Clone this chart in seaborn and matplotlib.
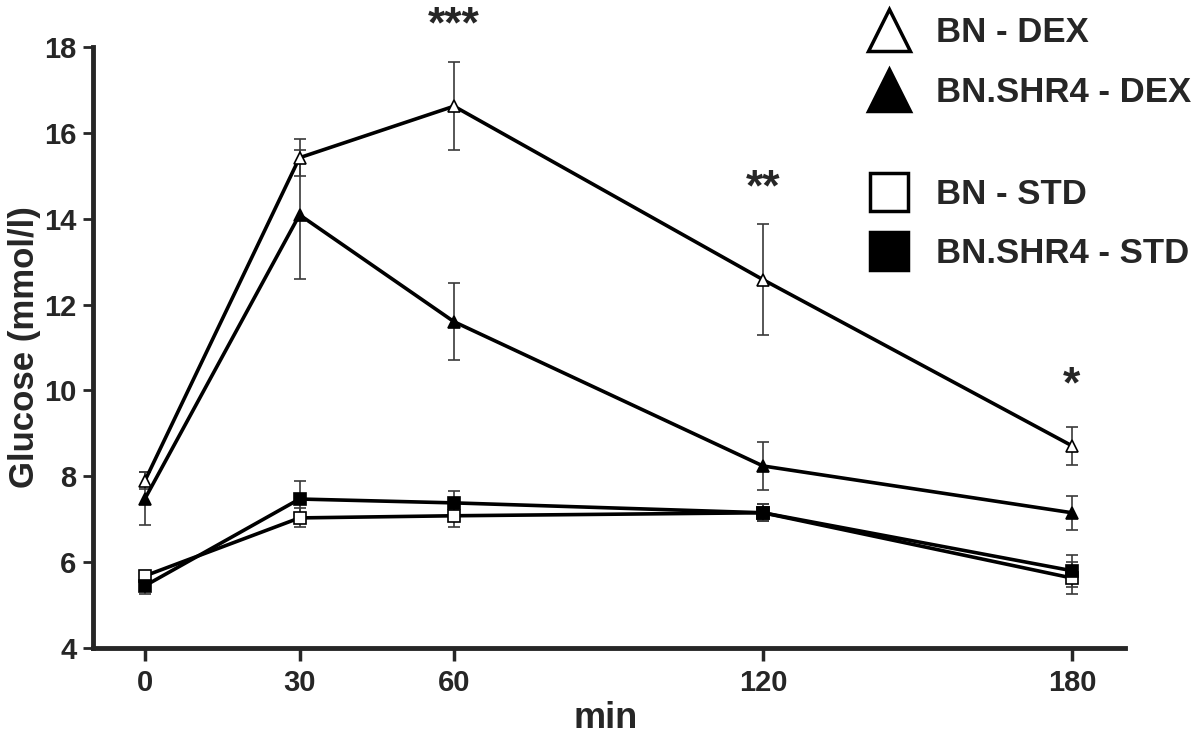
import numpy as np
import pandas as pd
import matplotlib
matplotlib.use('Agg')
import matplotlib.pyplot as plt
from matplotlib.lines import Line2D
import seaborn as sns

time_min = [0, 30, 60, 120, 180]

bn_dex = [7.9, 15.42, 16.62, 12.58, 8.71]
bn_dex_err = [0.2, 0.43, 1.03, 1.3, 0.44]
shr_dex = [7.48, 14.09, 11.6, 8.24, 7.15]
shr_dex_err = [0.62, 1.5, 0.9, 0.56, 0.4]
bn_std = [5.68, 7.03, 7.08, 7.15, 5.63]
bn_std_err = [0.1, 0.22, 0.26, 0.2, 0.37]
shr_std = [5.45, 7.47, 7.38, 7.15, 5.8]
shr_std_err = [0.2, 0.42, 0.28, 0.2, 0.37]

series_names = ['BN - DEX', 'BN.SHR4 - DEX', 'BN - STD', 'BN.SHR4 - STD']
stars = ['***', '**', '*']
star_times = [60, 120, 180]
star_y = [18.5, 14.7, 10.1]

sns.set_style('ticks')
plt.rcParams['font.family'] = ['Liberation Sans', 'DejaVu Sans']
plt.rcParams['font.weight'] = 'bold'

fig = plt.figure(figsize=(12, 7.42), dpi=100)
ax = fig.add_axes([0.0775, 0.1267, 0.86, 0.81])

styles = [('^', 'white'), ('^', 'black'), ('s', 'white'), ('s', 'black')]
values = [bn_dex, shr_dex, bn_std, shr_std]
errors = [bn_dex_err, shr_dex_err, bn_std_err, shr_std_err]

for name, (mk, fc), v, e in zip(series_names, styles, values, errors):
    df = pd.DataFrame({'min': time_min, 'glucose': v})
    ax.errorbar(time_min, v, yerr=e, fmt='none', ecolor='#3a3a3a',
                elinewidth=1.2, capsize=4, capthick=1.2, zorder=2)
    sns.lineplot(data=df, x='min', y='glucose', ax=ax, color='black',
                 linewidth=2.6, marker=mk, markersize=9,
                 markerfacecolor=fc, markeredgecolor='black',
                 markeredgewidth=1.2, zorder=3)

for s, t, yy in zip(stars, star_times, star_y):
    ax.text(t, yy, s, ha='center', va='center', fontsize=32,
            fontweight='bold', clip_on=False)

ax.set_xlim(-10.1, 190.3)
ax.set_ylim(4, 18)
ax.set_xticks(time_min)
ax.set_yticks(np.arange(4, 19, 2))
ax.tick_params(axis='x', length=9, width=2.5, labelsize=21, pad=6)
ax.tick_params(axis='y', length=7, width=2, labelsize=21, pad=5)
for lab in ax.get_xticklabels() + ax.get_yticklabels():
    lab.set_fontweight('bold')
sns.despine(ax=ax)
ax.spines['left'].set_linewidth(3.5)
ax.spines['bottom'].set_linewidth(3.5)

ax.set_xlabel('min', fontsize=26, fontweight='bold')
ax.set_ylabel('Glucose (mmol/l)', fontsize=25, fontweight='bold')
ax.xaxis.set_label_coords(0.497, -0.088)
ax.yaxis.set_label_coords(-0.05, 0.5)

h1 = [Line2D([], [], ls='none', marker='^', ms=30, mfc=fc, mec='black', mew=2.5)
      for fc in ['white', 'black']]
h2 = [Line2D([], [], ls='none', marker='s', ms=27, mfc=fc, mec='black', mew=2.5)
      for fc in ['white', 'black']]
leg_kw = dict(loc='upper left', frameon=False, borderpad=0, borderaxespad=0,
              handlelength=1.6, handletextpad=0.55, labelspacing=0.76,
              prop={'size': 25, 'weight': 'bold'})
fig.legend(h1, series_names[:2], bbox_to_anchor=(0.718, 0.978), **leg_kw)
fig.legend(h2, series_names[2:], bbox_to_anchor=(0.718, 0.76), **leg_kw)

fig.savefig('out.png', dpi=100)
